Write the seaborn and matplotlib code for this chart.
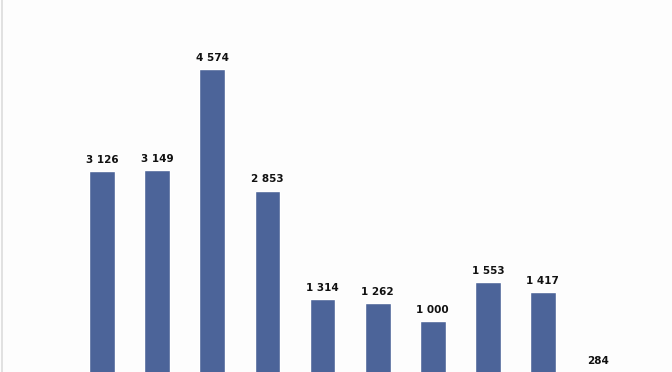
import matplotlib
matplotlib.use("Agg")
import matplotlib.pyplot as plt
import seaborn as sns
import pandas as pd

categories = ["1", "2", "3", "4", "5", "6", "7", "8", "9", "10"]
values = [3126, 3149, 4574, 2853, 1314, 1262, 1000, 1553, 1417, 284]
labels = ["3 126", "3 149", "4 574", "2 853", "1 314", "1 262", "1 000", "1 553", "1 417", "284"]

df = pd.DataFrame({"cat": categories, "val": values})

sns.set_theme(style="white")
fig = plt.figure(figsize=(6.72, 3.72), dpi=100)
fig.patch.set_facecolor("#fdfdfd")

# axes extends a little below the figure (the reference is cropped at the bottom)
base_px = 391.8
ax = fig.add_axes([0, 1 - base_px / 372, 1, base_px / 372])
ax.set_facecolor("#fdfdfd")

sns.barplot(data=df, x="cat", y="val", color="#4c6499", width=0.468,
            saturation=1, ax=ax, zorder=2)

px_per_unit = 0.0705
ax.set_ylim(0, base_px / px_per_unit)
spacing = 55.09
c0 = 102.2
ax.set_xlim((0 - c0) / spacing, (672 - c0) / spacing)

for i, (v, lab) in enumerate(zip(values, labels)):
    ax.annotate(lab, (i, v), xytext=(0, 4.5), textcoords="offset points",
                ha="center", va="bottom", fontsize=7.5, fontweight="bold",
                color="#111111", family="DejaVu Sans")

ax.set_axis_off()

# faint left border of the original frame
fig.add_artist(plt.Line2D([1.5 / 672, 1.5 / 672], [0, 1], color="#dcdcdc",
                          lw=1.2, transform=fig.transFigure))

fig.savefig("out.png", dpi=100, facecolor=fig.get_facecolor())
